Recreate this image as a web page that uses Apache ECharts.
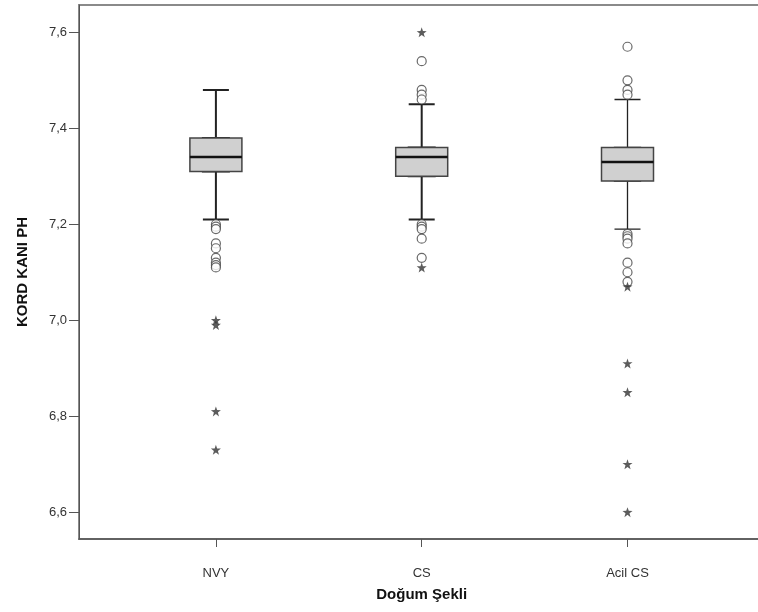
<!DOCTYPE html>
<html>
<head>
<meta charset="utf-8">
<script src="https://cdn.jsdelivr.net/npm/echarts@6/dist/echarts.min.js"></script>
<style>
  html, body { margin: 0; padding: 0; background: #fff; }
  #chart { width: 758px; height: 612px; }
</style>
</head>
<body>
<div id="chart"></div>
<script>
const categories = ['NVY', 'CS', 'Acil CS'];
// [alt bıyık, Q1, medyan, Q3, üst bıyık]
const boxStats = [
  [7.21, 7.31, 7.34, 7.38, 7.48],
  [7.21, 7.30, 7.34, 7.36, 7.45],
  [7.19, 7.29, 7.33, 7.36, 7.46]
];
const outliersNVY = [7.20, 7.195, 7.19, 7.16, 7.15, 7.13, 7.12, 7.115, 7.11];
const outliersCS = [7.54, 7.48, 7.47, 7.46, 7.20, 7.195, 7.19, 7.17, 7.13];
const outliersAcil = [7.57, 7.50, 7.48, 7.47, 7.18, 7.175, 7.17, 7.16, 7.12, 7.10, 7.08];
const extremesNVY = [7.00, 6.99, 6.81, 6.73];
const extremesCS = [7.60, 7.11];
const extremesAcil = [7.07, 6.91, 6.85, 6.70, 6.60];
const yTicks = [6.6, 6.8, 7.0, 7.2, 7.4, 7.6];
const yMin = 6.544;
const yMax = 7.657;

const font = 'Liberation Sans, Arial, sans-serif';
const star = 'path://M10,0L12.35,6.76L19.51,6.91L13.8,11.24L15.88,18.09L10,14L4.12,18.09L6.2,11.24L0.49,6.91L7.65,6.76Z';

const toPoints = (lists) => lists.flatMap((vals, i) => vals.map(v => [i, v]));
const outlierPoints = toPoints([outliersNVY, outliersCS, outliersAcil]);
const extremePoints = toPoints([extremesNVY, extremesCS, extremesAcil]);

// bıyıklar (yarım genişlik uçlar)
const whiskerData = boxStats.map((s, i) => ({
  value: s,
  itemStyle: { borderWidth: i === 2 ? 1.3 : 2 }
}));
// kutular
const boxData = boxStats.map(s => [s[1], s[1], s[2], s[3], s[3]]);
// kalın medyan çizgisi
const medianData = boxStats.map(s => [s[2], s[2], s[2], s[2], s[2]]);

// aynı konumda üst üste çizmek için gizli kategori eksenleri
const hiddenCat = { gridIndex: 1, type: 'category', data: categories, show: false };

const chart = echarts.init(document.getElementById('chart'));
const option = {
  animation: false,
  grid: [
    {
      left: 79, top: 5, width: 700, height: 534, outerBoundsMode: 'none',
      show: true, borderColor: '#8a8a8a', borderWidth: 2
    },
    { left: 113, top: 5, width: 617.4, height: 534, outerBoundsMode: 'none' }
  ],
  xAxis: [
    {
      gridIndex: 0, type: 'value', min: 0, max: 1,
      axisLine: { show: true, lineStyle: { color: '#555', width: 1.5 } },
      axisTick: { show: false }, axisLabel: { show: false }, splitLine: { show: false }
    },
    {
      gridIndex: 1, type: 'category', data: categories,
      axisLine: { show: false },
      axisTick: { show: true, alignWithLabel: true, length: 8, lineStyle: { color: '#555', width: 1 } },
      axisLabel: { margin: 28, fontSize: 13, color: '#333', fontFamily: font },
      name: 'Doğum Şekli', nameLocation: 'middle', nameGap: 48,
      nameTextStyle: { fontSize: 15, fontWeight: 'bold', color: '#111', fontFamily: font }
    },
    hiddenCat,
    Object.assign({}, hiddenCat)
  ],
  yAxis: [
    {
      gridIndex: 0, type: 'value', min: yMin, max: yMax,
      axisLine: { show: true, lineStyle: { color: '#555', width: 1 } },
      axisTick: { show: true, customValues: yTicks, length: 10, lineStyle: { color: '#555' } },
      axisLabel: {
        customValues: yTicks, margin: 12, fontSize: 13, color: '#333', fontFamily: font,
        formatter: v => v.toFixed(1).replace('.', ',')
      },
      splitLine: { show: false },
      name: 'KORD KANI PH', nameLocation: 'middle', nameGap: 49,
      nameTextStyle: { fontSize: 15, fontWeight: 'bold', color: '#111', fontFamily: font }
    },
    { gridIndex: 1, type: 'value', min: yMin, max: yMax, show: false }
  ],
  series: [
    {
      type: 'boxplot', xAxisIndex: 1, yAxisIndex: 1, z: 2,
      boxWidth: [26, 26], data: whiskerData,
      itemStyle: { color: 'rgba(0,0,0,0)', borderColor: '#222' },
      emphasis: { disabled: true }
    },
    {
      type: 'boxplot', xAxisIndex: 2, yAxisIndex: 1, z: 3,
      boxWidth: [52, 52], data: boxData,
      itemStyle: { color: '#d0d0d0', borderColor: '#444', borderWidth: 1.5 },
      emphasis: { disabled: true }
    },
    {
      type: 'boxplot', xAxisIndex: 3, yAxisIndex: 1, z: 4,
      boxWidth: [52, 52], data: medianData,
      itemStyle: { color: 'rgba(0,0,0,0)', borderColor: '#111', borderWidth: 2.5 },
      emphasis: { disabled: true }
    },
    {
      type: 'scatter', xAxisIndex: 1, yAxisIndex: 1, z: 5,
      data: outlierPoints, symbol: 'circle', symbolSize: 9,
      itemStyle: { color: '#fff', borderColor: '#444', borderWidth: 1.2 },
      emphasis: { disabled: true }
    },
    {
      type: 'scatter', xAxisIndex: 1, yAxisIndex: 1, z: 6,
      data: extremePoints, symbol: star, symbolSize: 10,
      itemStyle: { color: '#333' },
      emphasis: { disabled: true }
    }
  ]
};
chart.setOption(option);
</script>
</body>
</html>
